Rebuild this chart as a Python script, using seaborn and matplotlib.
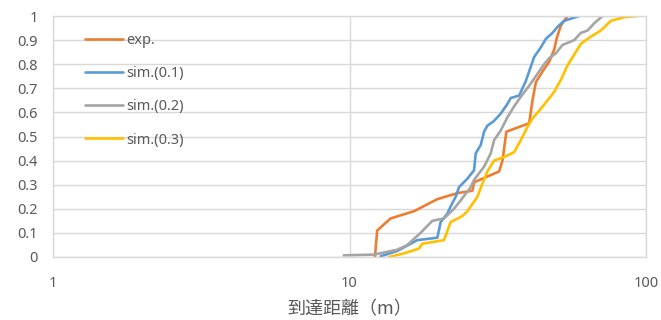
import numpy as np
import pandas as pd
import matplotlib
matplotlib.use("Agg")
import matplotlib.pyplot as plt
from matplotlib.ticker import FixedLocator, NullLocator, FuncFormatter
import seaborn as sns

# Cumulative fraction vs. travel distance (m)
exp_x = [12.18, 12.40, 13.76, 16.50, 19.78, 23.11, 25.97, 26.31, 31.96, 32.80,
         33.82, 40.36, 41.42, 42.51, 44.77, 47.15, 49.01, 50.04, 51.62, 54.37]
exp_y = [0.0, 0.11, 0.16, 0.19, 0.24, 0.265, 0.275, 0.31, 0.355, 0.40,
         0.52, 0.555, 0.65, 0.725, 0.77, 0.81, 0.86, 0.91, 0.96, 1.0]

sim1_x = [12.73, 14.49, 16.93, 19.78, 20.30, 21.38, 21.94, 22.81, 23.41, 24.98,
          26.31, 26.65, 27.71, 28.44, 29.18, 30.74, 32.37, 34.09, 34.99, 37.34,
          38.32, 39.32, 40.89, 41.96, 44.19, 45.94, 48.39, 50.30, 52.97, 59.55]
sim1_y = [0.003, 0.025, 0.07, 0.08, 0.145, 0.18, 0.21, 0.25, 0.29, 0.325,
          0.36, 0.43, 0.465, 0.52, 0.545, 0.565, 0.595, 0.635, 0.66, 0.67,
          0.70, 0.73, 0.79, 0.83, 0.87, 0.905, 0.93, 0.955, 0.98, 1.0]

sim2_x = [9.57, 12.08, 14.49, 15.66, 17.37, 19.02, 20.83, 22.51, 23.71, 25.64,
          26.31, 28.44, 29.95, 30.74, 32.37, 34.09, 35.91, 37.83, 40.89, 43.05,
          45.35, 47.15, 49.65, 52.29, 57.28, 60.33, 63.54, 66.92, 71.42]
sim2_y = [0.007, 0.01, 0.03, 0.05, 0.10, 0.15, 0.16, 0.20, 0.235, 0.29,
          0.32, 0.375, 0.43, 0.485, 0.525, 0.58, 0.625, 0.665, 0.72, 0.76,
          0.80, 0.825, 0.845, 0.88, 0.90, 0.93, 0.94, 0.97, 1.0]

sim3_x = [13.58, 15.26, 17.15, 17.60, 20.83, 21.94, 24.03, 24.98, 27.00, 28.07,
          29.18, 30.74, 33.21, 35.91, 37.83, 39.84, 41.42, 44.19, 46.54, 49.01,
          51.62, 54.37, 57.28, 60.33, 64.36, 70.46, 76.17, 84.51, 93.72]
sim3_y = [0.0, 0.015, 0.035, 0.055, 0.07, 0.145, 0.17, 0.19, 0.25, 0.305,
          0.355, 0.40, 0.415, 0.435, 0.485, 0.54, 0.575, 0.615, 0.65, 0.685,
          0.735, 0.795, 0.84, 0.885, 0.91, 0.94, 0.98, 0.995, 1.0]

series_names = ["exp.", "sim.(0.1)", "sim.(0.2)", "sim.(0.3)"]
series_colors = ["#ED7D31", "#5B9BD5", "#A5A5A5", "#FFC000"]
y_ticks = [0, 0.1, 0.2, 0.3, 0.4, 0.5, 0.6, 0.7, 0.8, 0.9, 1]
x_ticks = [1, 10, 100]
x_label = "到達距離（m）"

frames = []
for name, xs, ys in zip(series_names,
                        [exp_x, sim1_x, sim2_x, sim3_x],
                        [exp_y, sim1_y, sim2_y, sim3_y]):
    frames.append(pd.DataFrame({"dist": xs, "frac": ys, "series": name}))
df = pd.concat(frames, ignore_index=True)

sns.set_theme(style="whitegrid")
plt.rcParams["font.family"] = ["Noto Sans", "DejaVu Sans"]
text_color = "#595959"
grid_color = "#D9D9D9"

fig = plt.figure(figsize=(6.61, 3.2), dpi=100)
ax = fig.add_axes([53 / 661, 1 - 257 / 320, 593 / 661, 241 / 320])

sns.lineplot(data=df, x="dist", y="frac", hue="series", hue_order=series_names,
             palette=dict(zip(series_names, series_colors)),
             sort=False, estimator=None, linewidth=1.9, ax=ax, legend=False)

ax.set_xscale("log")
ax.set_xlim(1, 100)
ax.set_ylim(0, 1)
ax.xaxis.set_major_locator(FixedLocator(x_ticks))
ax.xaxis.set_minor_locator(NullLocator())
ax.xaxis.set_major_formatter(FuncFormatter(lambda v, p: f"{v:g}"))
ax.set_yticks(y_ticks)
ax.yaxis.set_major_formatter(FuncFormatter(lambda v, p: f"{v:g}"))

ax.grid(True, color=grid_color, linewidth=1.0)
for sp in ax.spines.values():
    sp.set_color(grid_color)
    sp.set_linewidth(1.0)
ax.tick_params(axis="both", length=0, labelsize=10.5, colors=text_color)
ax.tick_params(axis="x", pad=14)
ax.tick_params(axis="y", pad=11)

ax.set_xlabel(x_label, fontsize=13, color=text_color,
              family=["Noto Sans CJK JP", "DejaVu Sans"], labelpad=6)
ax.set_ylabel("")

handles = [plt.Line2D([], [], color=c, linewidth=1.9) for c in series_colors]
leg = ax.legend(handles, series_names, loc="upper left",
                bbox_to_anchor=(0.054, 0.93), frameon=False,
                borderpad=0, borderaxespad=0, handlelength=2.6,
                handletextpad=0.2, labelspacing=1.25, fontsize=10.5)
for t in leg.get_texts():
    t.set_color(text_color)

fig.savefig("out.png", dpi=100)
